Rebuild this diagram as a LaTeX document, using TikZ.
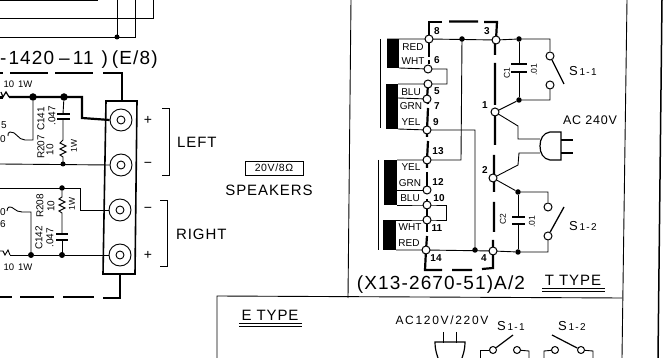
\documentclass[tikz,border=0pt]{standalone}
\usepackage{fontspec}
\setmainfont{Liberation Sans}
\newfontfamily\spacedfont[LetterSpace=14]{Liberation Sans}
\newfontfamily\tightfont[LetterSpace=6]{Liberation Sans}
\newcommand{\swlabel}[1]{{\fontsize{13}{14}\selectfont S}{\fontsize{10}{11}\selectfont\,#1}}
\begin{document}
\begin{tikzpicture}[x=1pt,y=-1pt,
  thinw/.style={line width=0.9pt},
  thickw/.style={line width=2.2pt},
  dot/.style={circle,fill=black,inner sep=0pt,minimum size=6pt},
  opn/.style={circle,draw,fill=white,line width=1pt,inner sep=0pt,minimum size=8pt},
  tx/.style={inner sep=0pt,font=\fontsize{9.5}{10}\selectfont},
  wlabel/.style={inner sep=0pt,font=\fontsize{10}{11}\selectfont},
  numl/.style={inner sep=0pt,font=\bfseries\fontsize{10}{11}\selectfont},
  lbl/.style={inner sep=0pt,font=\spacedfont},
  big/.style={inner sep=0pt,font=\tightfont\fontsize{15}{16}\selectfont},
  plain14/.style={inner sep=0pt,font=\fontsize{14}{15}\selectfont},
  huge2/.style={inner sep=0pt,font=\tightfont\fontsize{19}{20}\selectfont},
  rot/.style={inner sep=0pt,rotate=90,font=\fontsize{10}{11}\selectfont},
  rotsm/.style={inner sep=0pt,rotate=90,font=\fontsize{8.5}{9}\selectfont},
]
\useasboundingbox (0,0) rectangle (665,358);
\fill[white] (0,0) rectangle (665,358);
% top left frame
\draw[thinw] (0,0.5) -- (98,0.5);
\draw[thinw] (0,18) -- (153,18) -- (153,0);
\draw[thinw] (0,37) -- (135,37) -- (135,0);
\draw[thinw] (117,0) -- (117,37);
\node[dot,minimum size=5pt] at (117,37) {};
% outer frames
\draw[thinw] (351,0) -- (348,298);
\draw[thinw] (217,358) -- (217,296) -- (622,298);
\draw[thinw] (627,0) -- (622,358);
\draw[line width=1.5pt] (662,0) -- (658,358);
% title
\node[inner sep=0pt,anchor=west,font=\tightfont\fontsize{19}{20}\selectfont] at (0,60) {-\hspace{2pt}1420\hspace{5pt}–\hspace{3pt}11\hspace{8pt})\hspace{4pt}(E/8)};
% thick connection
\draw[thickw] (0,73) -- (3,73) (10,73) -- (48,73) (55,73) -- (93,73) (103,73) -- (122,73) -- (122,101);
\draw[thickw] (0,297) -- (12,297) (20,297) -- (54,297) (63,297) -- (94,297) (103,298) -- (120,298) -- (120,274);
% terminal block
\draw[line width=1.6pt] (106,101) -- (137,101) -- (135,274) -- (103,274) -- cycle;
\foreach \n/\x/\y in {ta/121/120,tb/121/165,tc/120/210,td/120/255}{
  \node[circle,draw,line width=0.9pt,fill=white,minimum size=22pt,inner sep=0pt] (\n) at (\x,\y) {};
  \node[circle,draw,line width=0.9pt,minimum size=8pt,inner sep=0pt] at (\x,\y) {};
}
% left channel
\draw[thickw] (0,97.5) -- (3,97.5);
\draw[line width=1.2pt] (1,92) -- (3,97) -- (6,92) -- (9,97);
\draw[thickw] (9,97) -- (82,97) -- (82,118) -- (ta.west);
\node[dot,minimum size=7.5pt] (j1) at (33,97) {};
\node[dot,minimum size=7.5pt] (j2) at (64,97) {};
\draw[thinw] (j1) -- (33,140) -- (25,140) .. controls (18,140) and (16,131) .. (10,132) .. controls (8,132) and (8,134) .. (8,136);
\node[wlabel] at (4,125) {5};
\node[wlabel] at (3,139) {0};
\draw[thinw] (j2) -- (63,114);
\draw[line width=1.3pt] (57,114) -- (70,114) (57,119) -- (70,119);
\draw[thinw] (63,119) -- (63,140) -- (60,143) -- (66,146) -- (60,149) -- (66,152) -- (60,155) -- (63,157) -- (63,164);
\node[dot,minimum size=5pt] (j3) at (63,164) {};
\draw[thinw] (0,164) -- (tb.west);
\node[tx] at (18,84) {10\hspace{4pt}1W};
\node[rot] at (41,119) {C141};
\node[rot] at (41,147) {R207};
\node[rot] at (52,116) {.047};
\node[rot] at (50,150) {10};
\node[rotsm] at (74,146) {1W};
% right channel
\draw[thinw] (0,188) -- (80,188) -- (80,210) -- (tc.west);
\node[dot,minimum size=5.5pt] (j4) at (62,188) {};
\draw[thinw] (j4) -- (62,197) -- (59,199) -- (65,202) -- (59,205) -- (65,208) -- (59,211) -- (62,213) -- (62,234);
\draw[line width=1.3pt] (56,234) -- (68,234) (56,240) -- (68,240);
\draw[thinw] (62,240) -- (62,255);
\node[dot,minimum size=6pt] (j5) at (62,255) {};
\node[dot,minimum size=6pt] (j6) at (31,255) {};
\draw[thinw] (td.west) -- (j5) -- (j6) -- (10,255);
\draw[thinw] (0,251) -- (3,251) -- (5,255) -- (8,250) -- (10,255);
\draw[thinw] (j6) -- (31,212) -- (22,212) .. controls (15,212) and (13,206) .. (9,207) .. controls (8,207) and (7,209) .. (7,211);
\node[wlabel] at (3,212) {0};
\node[wlabel] at (3,224) {6};
\node[tx] at (18,267) {10\hspace{4pt}1W};
\node[rot] at (40,206) {R208};
\node[rot] at (51,206) {10};
\node[rot] at (39,238) {C142};
\node[rot] at (50,238) {.047};
\node[rotsm] at (72,204) {1W};
% brackets
\node[plain14] at (148,120) {+};
\node[plain14] at (148,165) {−};
\node[plain14] at (148,210) {−};
\node[plain14] at (148,255) {+};
\draw[thinw] (162,108) -- (169,108) -- (169,175) -- (162,175);
\draw[thinw] (160,200) -- (167,200) -- (167,266) -- (160,266);
\node[big,anchor=west] at (177,142) {LEFT};
\node[big,anchor=west] at (176,234) {RIGHT};
% speakers
\node[draw,thinw,minimum width=58pt,minimum height=14pt,inner sep=0pt,font=\tightfont\fontsize{10.5}{11}\selectfont] (sp) at (274,168) {20V/8Ω};
\node[big] at (269,190) {SPEAKERS};
% transformer bars
\draw[thinw] (380,39) -- (380,128) (378,160) -- (378,250);
\fill (387,39) rectangle (399,68);
\fill (386,84) rectangle (398,129);
\fill (384,160) rectangle (397,205);
\fill (383,220) rectangle (396,250);
% nodes
\foreach \n/\x/\y in {n8/429/39,n6/428/69,na/428/84,n5/427/99,n9/427/130,n13/427/160,n12/427/190,n10/427/205,nb/427/220,n14/426/250,n3/496/40,n1/495/112,n2/493/178,n4/493/251}{
  \coordinate (\n) at (\x,\y);
}
% thin wires
\draw[thinw] (387,39) -- (n8) -- (n3);
\draw[thinw] (399,68) -- (n6) -- (447,69) -- (447,84) -- (na) -- (398,84);
\draw[thinw] (398,98) -- (n5);
\draw[thinw] (398,129) -- (n9) -- (475,130) -- (475,250);
\draw[thinw] (462,39) -- (461,160) -- (n13) -- (397,160);
\draw[thinw] (397,190) -- (n12);
\draw[thinw] (397,205) -- (n10) -- (446,205) -- (446,220) -- (nb) -- (396,220);
\draw[thinw] (396,250) -- (n14) -- (n4);
% thick dashed frame
\draw[thickw] (442,22) -- (429,22) -- (n8);
\draw[thickw] (449,21.5) -- (478,21.5) (484,22) -- (497,22) -- (n3);
\draw[thickw] (495,43) -- (495,55) (495,63) -- (495,105) (495,108) -- (495,145) (494,155) -- (494,192) (494,202) -- (494,232) (493,240) -- (493,268) -- (482,269);
\draw[thickw] (472,270) -- (452,270) (442,270) -- (425,270) -- (n14);
\draw[thickw] (429,43) -- (429,57) (429,60) -- (429,64);
\draw[thickw] (428,84) -- (n5) -- (428,104);
\draw[thickw] (428,108) -- (n9) -- (427,137);
\draw[thickw] (428,141) -- (n13) -- (427,168);
\draw[thickw] (427,172) -- (n12);
\draw[thickw] (427,199) -- (n10);
\draw[thickw] (n10) -- (nb) -- (427,232);
\draw[thickw] (427,236) -- (n14);
% switch circuit
\node[dot,minimum size=5.5pt] (d8) at (462,39) {};
\node[dot,minimum size=5.5pt] (d14) at (475,250) {};
\node[dot,minimum size=5.5pt] (c1t) at (519,39) {};
\node[dot,minimum size=5.5pt] (c1b) at (519,100) {};
\node[dot,minimum size=5.5pt] (c2t) at (518,192) {};
\node[dot,minimum size=5.5pt] (c2b) at (518,252) {};
\node[opn] (s1a) at (550,56) {};
\node[opn] (s1b) at (550,85) {};
\node[opn] (s2a) at (548,207) {};
\node[opn] (s2b) at (548,236) {};
\draw[thinw] (n3) -- (c1t) -- (550,39) -- (s1a);
\draw[thinw] (s1b) -- (550,100) -- (c1b) -- (n1);
\draw[line width=1.3pt] (s1a) -- (564,84);
\draw[line width=1.3pt] (s2b) -- (564,207);
\draw[thinw] (c1t) -- (519,64) (c1b) -- (519,72);
\draw[line width=1.4pt] (511,64) -- (527,64) (511,72) -- (527,72);
\draw[thinw] (n1) -- (518,126) -- (518,139) -- (540,139);
\draw[thinw] (n2) -- (518,165) -- (519,153) -- (540,153);
\draw[thinw] (n2) -- (c2t) -- (548,192) -- (s2a);
\draw[thinw] (s2b) -- (548,252) -- (c2b) -- (n4);
\draw[thinw] (c2t) -- (518,217) (c2b) -- (518,224);
\draw[line width=1.4pt] (512,217) -- (525,217) (512,224) -- (525,224);
% plug
\draw[line width=1.2pt] (561,132) -- (550,132) .. controls (543,133) and (540,139) .. (540,146) .. controls (540,153) and (543,159) .. (550,160) -- (561,160) -- cycle;
\draw[line width=1.2pt] (561,140) -- (573,140) (561,153) -- (573,153);
% open nodes on top
\foreach \n in {n8,n6,na,n5,n9,n13,n12,n10,nb,n14,n3,n1,n2,n4}{
  \node[opn] at (\n) {};
}
% wire labels
\foreach \t/\x/\y in {RED/413/47,WHT/413/61,BLU/411/92,GRN/411/106,YEL/411/122,YEL/411/167,GRN/410/183,BLU/410/198,WHT/410/227,RED/409/243}{
  \node[wlabel] at (\x,\y) {\t};
}
\foreach \t/\x/\y in {8/437/31,6/437/60,5/437/91,7/437/106,9/436/122,13/438/151,12/438/182,10/439/198,11/437/228,14/436/258,3/487/31,4/484/258,1/485/105,2/485/170}{
  \node[numl] at (\x,\y) {\t};
}
\node[rotsm] at (507,73) {C1};
\node[rotsm] at (534,70) {.01};
\node[rotsm] at (503,219) {C2};
\node[rotsm] at (532,222) {.01};
\node[lbl] at (583,71) {\swlabel{1-1}};
\node[lbl] at (583,226) {\swlabel{1-2}};
\node[inner sep=0pt,font=\tightfont\fontsize{12.5}{13}\selectfont] at (590,120) {AC 240V};
% bottom captions
\node[huge2] at (441,285) {(X13-2670-51)A/2};
\node[big] at (573,280) {T TYPE};
\draw[thinw] (542,288.5) -- (605,288.5) (542,291.5) -- (605,291.5);
% E type
\node[big] at (270,315) {E TYPE};
\draw[thinw] (239,323) -- (302,323) (239,326.5) -- (302,326.5);
\node[inner sep=0pt,font=\spacedfont\fontsize{12}{13}\selectfont] at (442,320) {AC120V/220V};
\node[lbl] at (511,326) {\swlabel{1-1}};
\node[lbl] at (572,326) {\swlabel{1-2}};
\draw[thinw] (443,332) -- (443,343) (456,332) -- (456,343);
\draw[line width=1.2pt] (438,358) .. controls (436,352) and (435,348) .. (435,342) -- (465,342) .. controls (465,348) and (464,352) .. (462,358);
\node[opn,minimum size=7pt] (e1a) at (493,350) {};
\node[opn,minimum size=7pt] (e1b) at (517,350) {};
\node[opn,minimum size=7pt] (e2a) at (555,350) {};
\node[opn,minimum size=7pt] (e2b) at (581,350) {};
\draw[thinw] (480,358) -- (480,350) -- (e1a);
\draw[thinw] (e1b) -- (529,351) -- (529,358);
\draw[thinw] (544,358) -- (544,351) -- (e2a);
\draw[thinw] (e2b) -- (593,351) -- (593,358);
\draw[line width=1.2pt] (e1a) -- (513,335);
\draw[line width=1.2pt] (e2b) -- (552,335);
\end{tikzpicture}
\end{document}
